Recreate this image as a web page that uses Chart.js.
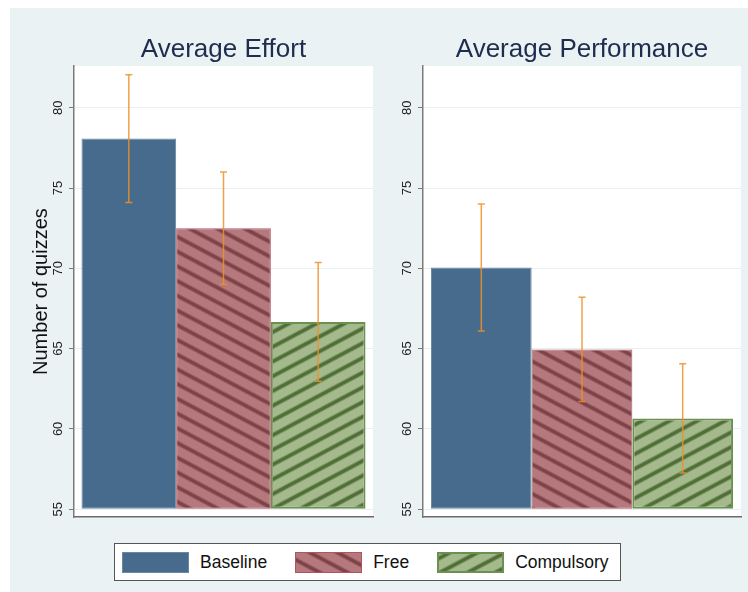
<!DOCTYPE html>
<html>
<head>
<meta charset="utf-8">
<script src="https://cdn.jsdelivr.net/npm/chart.js@4.4.1/dist/chart.umd.min.js"></script>
<style>
    body { margin: 0; background: #fff; font-family: 'Liberation Sans', Arial, sans-serif; }
    #bg { position: absolute; left: 10px; top: 8px; width: 738px; height: 584px; background: #eaf2f3; }
    canvas.panel { position: absolute; top: 8px; }
    #legend {
        position: absolute; left: 114px; top: 543px; width: 507px; height: 38px;
        box-sizing: border-box; border: 1px solid #555; background: #fff;
        display: flex; align-items: center; padding-left: 7px;
    }
    #legend .sw { display: block; margin-right: 11px; }
    #legend span { font-size: 17.5px; color: #111; margin-right: 28px; }
</style>
</head>
<body>
<div id="bg"></div>
<canvas id="effort" class="panel" width="370" height="520" style="left:10px;width:370px;height:520px"></canvas>
<canvas id="perf" class="panel" width="368" height="520" style="left:380px;width:368px;height:520px"></canvas>
<div id="legend"></div>
<script>
// 데이터
const groups = ['Baseline', 'Free', 'Compulsory'];
const effortMean = [78.08, 72.5, 66.66];
const effortErr = [3.98, 3.5, 3.7];
const perfMean = [70.05, 64.95, 60.65];
const perfErr = [3.95, 3.25, 3.4];
const yTicks = [55, 60, 65, 70, 75, 80];
const panelTitles = ['Average Effort', 'Average Performance'];
const yTitle = 'Number of quizzes';

// 막대 스타일
const barStyles = [
    { fill: '#476b8c', stripe: null, angle: 0, border: '#6a87a3', bw: 1 },
    { fill: '#b5787c', stripe: '#7e4349', angle: 28, border: '#b0545e', bw: 1 },
    { fill: '#a4b98c', stripe: '#506f37', angle: -28, border: '#6b9150', bw: 2 }
];

Chart.defaults.font.family = "'Liberation Sans', Arial, sans-serif";
Chart.defaults.animation = false;

// 줄무늬 패턴
function stripes(ctx, s) {
    if (!s.stripe) return s.fill;
    const t = document.createElement('canvas');
    t.width = 8;
    t.height = 13;
    const c = t.getContext('2d');
    c.fillStyle = s.fill;
    c.fillRect(0, 0, 8, 13);
    c.fillStyle = s.stripe;
    c.globalAlpha = 0.45;
    c.fillRect(0, 4, 8, 1);
    c.fillRect(0, 8, 8, 1);
    c.globalAlpha = 1;
    c.fillRect(0, 5, 8, 3);
    const p = ctx.createPattern(t, 'repeat');
    p.setTransform(new DOMMatrix().rotateSelf(s.angle));
    return p;
}

const plotBg = {
    id: 'plotBg',
    beforeDraw(chart) {
        const { ctx, chartArea: a } = chart;
        ctx.save();
        ctx.fillStyle = '#fff';
        ctx.fillRect(a.left, a.top, a.width, a.height);
        ctx.restore();
    }
};

// 오차 막대
const errorBars = {
    id: 'errorBars',
    afterDatasetsDraw(chart) {
        const { ctx } = chart;
        const y = chart.scales.y;
        ctx.save();
        ctx.strokeStyle = 'rgba(240,145,40,0.85)';
        ctx.lineWidth = 1.5;
        chart.data.datasets.forEach((ds, i) => {
            const bar = chart.getDatasetMeta(i).data[0];
            const v = ds.data[0];
            const e = ds.errors[0];
            const top = y.getPixelForValue(v + e);
            const bot = y.getPixelForValue(v - e);
            ctx.beginPath();
            ctx.moveTo(bar.x, top);
            ctx.lineTo(bar.x, bot);
            ctx.moveTo(bar.x - 3.5, top);
            ctx.lineTo(bar.x + 3.5, top);
            ctx.moveTo(bar.x - 3.5, bot);
            ctx.lineTo(bar.x + 3.5, bot);
            ctx.stroke();
        });
        ctx.restore();
    }
};

function panel(id, title, means, errs, showYTitle, yWidth) {
    const ctx = document.getElementById(id).getContext('2d');
    const datasets = groups.map((g, i) => ({
        label: g,
        data: [means[i]],
        errors: [errs[i]],
        base: 55,
        backgroundColor: stripes(ctx, barStyles[i]),
        borderColor: barStyles[i].border,
        borderWidth: barStyles[i].bw,
        borderSkipped: false,
        categoryPercentage: 0.95,
        barPercentage: 1
    }));

    new Chart(ctx, {
        type: 'bar',
        data: { labels: [title], datasets: datasets },
        options: {
            responsive: false,
            layout: { padding: { left: 0, right: 7, top: 0, bottom: 10.5 } },
            plugins: {
                legend: { display: false },
                tooltip: { enabled: false },
                title: {
                    display: true,
                    text: title,
                    fullSize: false,
                    color: '#1e2c4f',
                    font: { size: 26, weight: 'normal' },
                    padding: { top: 26, bottom: 0.8 }
                }
            },
            scales: {
                x: {
                    afterFit: s => { s.height = 0; },
                    grid: { display: true, color: 'rgba(0,0,0,0)', drawTicks: false },
                    border: { color: '#6a6a6a', width: 1.5 },
                    ticks: { display: false }
                },
                y: {
                    min: 54.5,
                    max: 82.6,
                    afterBuildTicks: s => { s.ticks = yTicks.map(v => ({ value: v })); },
                    afterFit: s => { s.width = yWidth; },
                    grid: { color: '#e6eff1', lineWidth: 1, tickLength: 5, tickColor: '#7a7a7a' },
                    border: { color: '#7a7a7a', width: 1.5 },
                    ticks: {
                        minRotation: 90,
                        maxRotation: 90,
                        crossAlign: 'center',
                        padding: 3,
                        color: '#222',
                        font: { size: 13 }
                    },
                    title: {
                        display: showYTitle,
                        text: yTitle,
                        color: '#111',
                        font: { size: 20 },
                        padding: { top: 19, bottom: 0 }
                    }
                }
            }
        },
        plugins: [plotBg, errorBars]
    });
}

panel('effort', panelTitles[0], effortMean, effortErr, true, 64);
panel('perf', panelTitles[1], perfMean, perfErr, false, 43);

// 범례
const legend = document.getElementById('legend');
groups.forEach((g, i) => {
    const s = barStyles[i];
    const c = document.createElement('canvas');
    c.width = 67;
    c.height = 21;
    c.className = 'sw';
    const x = c.getContext('2d');
    x.fillStyle = stripes(x, s);
    x.fillRect(0, 0, 67, 21);
    x.strokeStyle = s.border;
    x.lineWidth = s.bw;
    x.strokeRect(s.bw / 2, s.bw / 2, 67 - s.bw, 21 - s.bw);
    legend.appendChild(c);
    const t = document.createElement('span');
    t.textContent = g;
    legend.appendChild(t);
});
</script>
</body>
</html>
